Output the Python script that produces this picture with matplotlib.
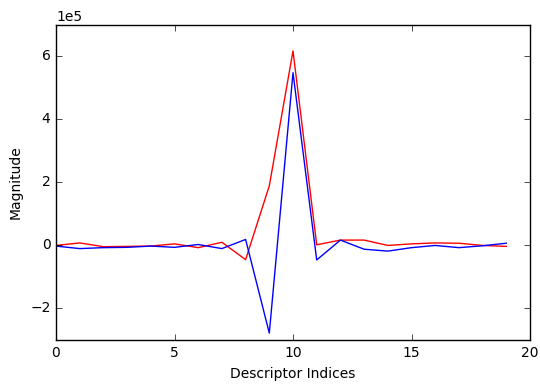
import numpy as np
import matplotlib
matplotlib.use('Agg')
import matplotlib.pyplot as plt

indices = np.arange(20)
red_vals = np.array([0.0, 0.08, -0.04, -0.03, -0.02, 0.05, -0.07, 0.10, -0.45, 1.89,
                     6.17, 0.02, 0.17, 0.17, 0.0, 0.05, 0.08, 0.07, 0.0, -0.03]) * 1e5
blue_vals = np.array([-0.02, -0.10, -0.07, -0.06, -0.02, -0.06, 0.03, -0.10, 0.19, -2.78,
                      5.48, -0.46, 0.17, -0.12, -0.18, -0.07, 0.0, -0.07, -0.01, 0.07]) * 1e5


def main():
    plt.style.use('classic')
    plt.rcParams['figure.facecolor'] = 'white'
    plt.rcParams['savefig.facecolor'] = 'white'
    plt.rcParams['font.size'] = 10

    fig = plt.figure(figsize=(5.4, 3.87), dpi=100)
    ax = fig.add_axes([0.1037, 0.1214, 0.8778, 0.8146])
    ax.plot(indices, red_vals, 'r-', lw=1)
    ax.plot(indices, blue_vals, 'b-', lw=1)
    ax.set_xlim(0, 20)
    ax.set_ylim(-3e5, 7e5)
    ax.set_xticks([0, 5, 10, 15, 20])
    ax.set_yticks([-2e5, 0, 2e5, 4e5, 6e5])
    ax.ticklabel_format(style='sci', axis='y', scilimits=(0, 0))
    ax.set_xlabel('Descriptor Indices')
    ax.set_ylabel('Magnitude')
    fig.savefig('out.png', dpi=100)


if __name__ == '__main__':
    main()
